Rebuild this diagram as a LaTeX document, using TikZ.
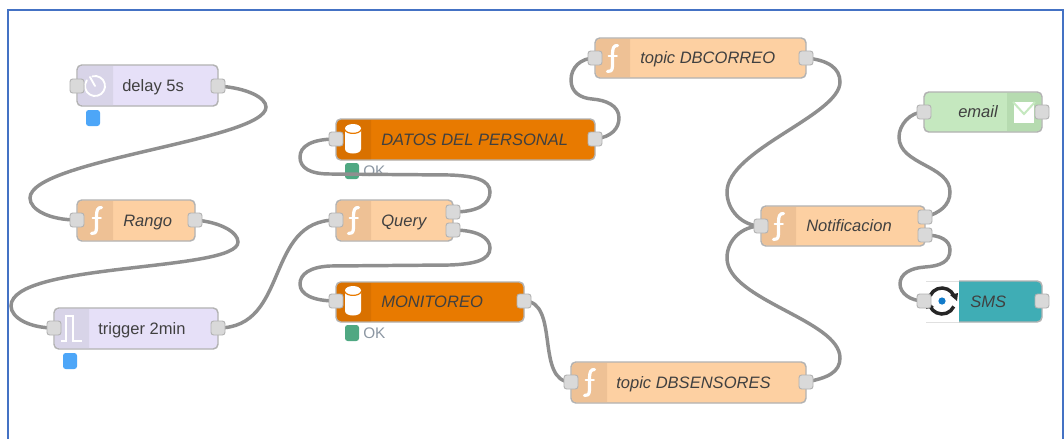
\documentclass[tikz,border=0pt]{standalone}
\usepackage{fontspec}
\setmainfont{Liberation Sans}
\pgfdeclarelayer{statuslayer}
\pgfdeclarelayer{wirelayer}
\pgfsetlayers{statuslayer,wirelayer,main}
\definecolor{fnbody}{HTML}{FDD0A2}
\definecolor{fntint}{HTML}{EEC195}
\definecolor{lilac}{HTML}{E6E0F8}
\definecolor{lilactint}{HTML}{D8D4E8}
\definecolor{dborange}{HTML}{E87A00}
\definecolor{dbtint}{HTML}{D97100}
\definecolor{mailgreen}{HTML}{C5E8BF}
\definecolor{mailtint}{HTML}{B6DBB0}
\definecolor{smsteal}{HTML}{3FADB5}
\definecolor{wiregrey}{HTML}{8F8F8F}
\definecolor{frameblue}{HTML}{4472C4}
\definecolor{stblue}{HTML}{4DA6F8}
\definecolor{stgreen}{HTML}{4FA882}
\definecolor{oktone}{HTML}{8C97A3}
\tikzset{
  x=0.75pt,y=-0.75pt,
  bodybox/.style={draw=black!30,line width=1.1pt,rounded corners=3.6pt,inner sep=0pt,outer sep=0pt},
  portbox/.style={draw=black!30,fill=black!15,line width=0.7pt,rounded corners=2pt,minimum width=10.5pt,minimum height=10.5pt,inner sep=0pt,outer sep=0pt},
  wire/.style={draw=wiregrey,line width=2.6pt,line cap=round},
  labeltext/.style={text=black!75,anchor=base west,inner sep=0pt,font=\fontsize{12.4pt}{14pt}\selectfont},
  statusdot/.style={rounded corners=2pt,minimum width=10.5pt,minimum height=12pt,inner sep=0pt},
  oktext/.style={text=oktone,anchor=west,inner sep=0pt,font=\fontsize{11.5pt}{13pt}\selectfont},
  iconline/.style={draw=white,line width=2.4pt,line cap=round,line join=round},
  iconthin/.style={draw=white,line width=1.4pt,line cap=round,line join=round},
  iconpulse/.style={draw=white,line width=1.7pt,line cap=butt,line join=miter},
}
% name, x1, y1, x2, y2, fill, label, label x
\newcommand\nrbody[8]{%
  \pgfmathsetmacro\bcx{(#2+#4)/2}\pgfmathsetmacro\bcy{(#3+#5)/2}%
  \pgfmathsetmacro\bw{(#4-#2)*0.75}\pgfmathsetmacro\bh{(#5-#3)*0.75}%
  \node[bodybox,fill=#6,minimum width=\bw pt,minimum height=\bh pt] (#1) at (\bcx,\bcy) {};
  \node[labeltext] (#1-label) at (#8,\bcy+5.5) {#7};
}
% left band: x1,y1,sep,y2,colour
\newcommand\bandleft[5]{\fill[#5] (#3,#2+1) [rounded corners=3pt] -- (#1+1,#2+1) -- (#1+1,#4-1) [sharp corners] -- (#3,#4-1) -- cycle;}
\newcommand\bandright[5]{\fill[#5] (#1,#2+1) [rounded corners=3pt] -- (#3-1,#2+1) -- (#3-1,#4-1) [sharp corners] -- (#1,#4-1) -- cycle;}
\newcommand\iconfn[2]{\begin{scope}[shift={(#1,#2)}]
  \draw[iconline] (5.5,-12.5) .. controls (1.5,-13) and (0.5,-9) .. (0.5,-4) -- (0.5,8) .. controls (0.5,13) and (-2,14) .. (-4.5,13.5);
  \draw[iconthin] (-3.5,-2) -- (5,-2);
\end{scope}}
\newcommand\icondb[2]{\begin{scope}[shift={(#1,#2)}]
  \fill[white] (-8,-9) -- (-8,10) .. controls (-8,16) and (8,16) .. (8,10) -- (8,-9) -- cycle;
  \fill[white] (0,-10.5) ellipse [x radius=8,y radius=4.5];
  \draw[dborange,line width=0.9pt] (-8,-9) .. controls (-6,-4.5) and (6,-4.5) .. (8,-9);
\end{scope}}
\begin{document}
\begin{tikzpicture}
\begin{pgfonlayer}{statuslayer}
  \fill[white] (0,0) rectangle (1064,439);
\end{pgfonlayer}
\useasboundingbox (0,0) rectangle (1064,439);
\draw[frameblue,line width=1.3pt] (8,439) -- (8,10) -- (1063,10) -- (1063,439);

% bodies
\nrbody{delay}{77}{65}{218}{106}{lilac}{delay 5s}{122}
\bandleft{77}{65}{113}{106}{lilactint}
\nrbody{rango}{77}{200}{195}{241}{fnbody}{\itshape Rango}{123}
\bandleft{77}{200}{113}{241}{fntint}
\nrbody{trigger}{54}{308}{218}{349}{lilac}{trigger 2min}{98}
\bandleft{54}{308}{89}{349}{lilactint}
\nrbody{datos}{336}{119}{595}{160}{dborange}{\itshape DATOS DEL PERSONAL}{381}
\bandleft{336}{119}{371}{160}{dbtint}
\nrbody{query}{336}{200}{453}{241}{fnbody}{\itshape Query}{381}
\bandleft{336}{200}{371}{241}{fntint}
\nrbody{monitoreo}{336}{282}{524}{322}{dborange}{\itshape MONITOREO}{381}
\bandleft{336}{282}{371}{322}{dbtint}
\nrbody{correo}{595}{38}{806}{78}{fnbody}{\itshape topic DBCORREO}{640}
\bandleft{595}{38}{630}{78}{fntint}
\nrbody{sensores}{571}{362}{806}{403}{fnbody}{\itshape topic DBSENSORES}{616}
\bandleft{571}{362}{607}{403}{fntint}
\nrbody{notif}{761}{206}{925}{246}{fnbody}{\itshape Notificacion}{806}
\bandleft{761}{206}{796}{246}{fntint}
\nrbody{email}{924}{92}{1042}{132}{mailgreen}{\itshape email}{958}
\bandright{1007}{92}{1042}{132}{mailtint}
\nrbody{sms}{924}{281}{1042}{322}{smsteal}{\itshape SMS}{970}
\fill[white] (959,280) rectangle (922,323);
\draw[black!12,line width=0.7pt] (959,281) -- (926,281);
\draw[black!12,line width=0.7pt] (959,322) -- (926,322);

% icons
\draw[iconthin] (95,86) ++(-105:10) arc [start angle=-105,end angle=215,radius=10];
\draw[iconthin] (95,86) -- (90,77);
\iconfn{96}{220}
\draw[iconpulse] (61,341) -- (66,341) -- (66,316) -- (73,316) -- (73,341) -- (82,341);
\icondb{353}{139}
\iconfn{353}{220}
\icondb{353}{301}
\iconfn{612}{58}
\iconfn{589}{382}
\iconfn{778}{226}
\fill[white] (1014,102) rectangle (1034,123);
\draw[mailgreen,line width=1.5pt] (1013,102) -- (1024,114) -- (1035,102);
% sms icon
\draw[black!85,line width=2.6pt] (942,301) ++(205:13) arc [start angle=205,end angle=335,radius=13];
\draw[black!85,line width=2.6pt] (942,301) ++(25:13) arc [start angle=25,end angle=155,radius=13];
\fill[black!85] (950,295) -- (958,293) -- (957,301) -- cycle;
\fill[black!85] (934,307) -- (926,309) -- (927,301) -- cycle;
\fill[cyan!60!blue] (942,301) circle [radius=3.6];

% ports
\node[portbox] (delay-out) at (218,86) {};
\node[portbox] (delay-in) at (77,86) {};
\node[portbox] (rango-in) at (77,220) {};
\node[portbox] (rango-out) at (195,220) {};
\node[portbox] (trigger-in) at (54,328) {};
\node[portbox] (trigger-out) at (218,328) {};
\node[portbox] (datos-in) at (336,139) {};
\node[portbox] (datos-out) at (595,139) {};
\node[portbox] (query-in) at (336,220) {};
\node[portbox] (query-a) at (453,212) {};
\node[portbox] (query-b) at (453,230) {};
\node[portbox] (monitoreo-in) at (336,301) {};
\node[portbox] (monitoreo-out) at (524,301) {};
\node[portbox] (correo-in) at (595,58) {};
\node[portbox] (correo-out) at (806,58) {};
\node[portbox] (sensores-in) at (571,382) {};
\node[portbox] (sensores-out) at (806,382) {};
\node[portbox] (notif-in) at (761,226) {};
\node[portbox] (notif-a) at (925,217) {};
\node[portbox] (notif-b) at (925,235) {};
\node[portbox] (email-in) at (924,112) {};
\node[portbox] (email-out) at (1042,112) {};
\node[portbox] (sms-in) at (924,301) {};
\node[portbox] (sms-out) at (1042,301) {};

% status
\begin{pgfonlayer}{statuslayer}
  \node[statusdot,fill=stblue] (st-delay) at (93,118) {};
  \node[statusdot,fill=stblue] (st-trigger) at (70,361) {};
  \node[statusdot,fill=stgreen] (st-datos) at (352,171) {};
  \node[oktext] (ok-datos) at (363,171) {OK};
  \node[statusdot,fill=stgreen] (st-mon) at (352,333) {};
  \node[oktext] (ok-mon) at (363,333) {OK};
\end{pgfonlayer}

% wires
\begin{pgfonlayer}{wirelayer}
\draw[wire] (delay-out.center) .. controls (248,88) and (266,98) .. (266,107)
  .. controls (266,140) and (30,160) .. (30,198) .. controls (30,210) and (50,220) .. (rango-in.center);
\draw[wire] (rango-out.center) .. controls (220,222) and (238,232) .. (238,242)
  .. controls (238,272) and (11,262) .. (11,306) .. controls (11,318) and (30,328) .. (trigger-in.center);
\draw[wire] (trigger-out.center) .. controls (290,328) and (264,220) .. (query-in.center);
\draw[wire] (query-a.center) .. controls (478,212) and (490,204) .. (490,192)
  .. controls (490,180) and (475,176) .. (450,175) -- (330,174)
  .. controls (310,174) and (300,168) .. (300,157) .. controls (300,146) and (312,139) .. (datos-in.center);
\draw[wire] (query-b.center) .. controls (478,230) and (490,238) .. (490,248)
  .. controls (490,260) and (475,264) .. (450,265) -- (330,266)
  .. controls (310,267) and (300,274) .. (300,284) .. controls (300,294) and (312,301) .. (monitoreo-in.center);
\draw[wire] (monitoreo-out.center) .. controls (560,301) and (535,382) .. (sensores-in.center);
\draw[wire] (datos-out.center) .. controls (612,137) and (619,128) .. (619,118)
  .. controls (619,105) and (605,100) .. (592,99) .. controls (580,98) and (571,92) .. (571,80)
  .. controls (571,68) and (580,58) .. (correo-in.center);
\draw[wire] (correo-out.center) .. controls (828,60) and (840,68) .. (840,82)
  .. controls (840,115) and (727,150) .. (727,192) .. controls (727,210) and (742,226) .. (notif-in.center);
\draw[wire] (sensores-out.center) .. controls (828,378) and (840,372) .. (840,358)
  .. controls (840,320) and (727,300) .. (727,258) .. controls (727,240) and (742,226) .. (notif-in.center);
\draw[wire] (notif-a.center) .. controls (940,213) and (950,205) .. (950,192)
  .. controls (950,165) and (899,165) .. (899,137) .. controls (899,125) and (910,112) .. (email-in.center);
\draw[wire] (notif-b.center) .. controls (940,235) and (950,240) .. (950,250)
  .. controls (950,262) and (940,266) .. (925,267) .. controls (910,268) and (900,274) .. (900,284)
  .. controls (900,293) and (910,301) .. (sms-in.center);
\end{pgfonlayer}
\end{tikzpicture}
\end{document}
